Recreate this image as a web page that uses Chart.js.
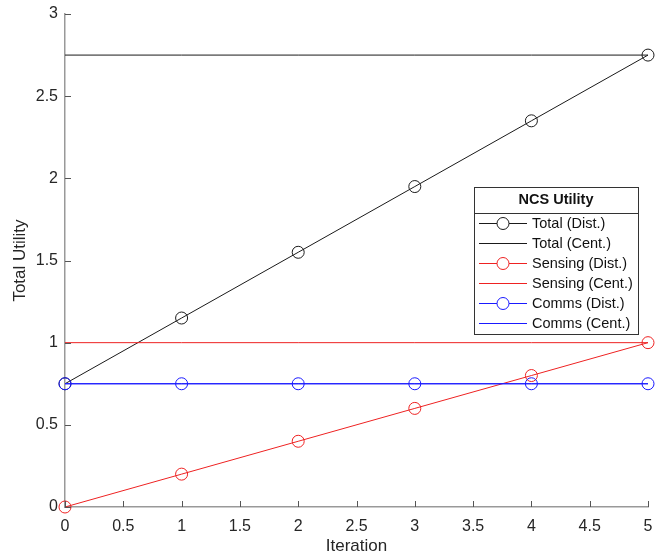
<!DOCTYPE html>
<html>
<head>
<meta charset="utf-8">
<script src="https://cdn.jsdelivr.net/npm/chart.js@4/dist/chart.umd.min.js"></script>
<style>
  html, body { margin: 0; padding: 0; background: #fff; }
  #wrap { width: 655px; height: 558px; }
</style>
</head>
<body>
<div id="wrap"><canvas id="c"></canvas></div>
<script>
const iterations = [0, 1, 2, 3, 4, 5];
const totalDist = [0.75, 1.15, 1.55, 1.95, 2.35, 2.75];
const totalCent = [2.75, 2.75, 2.75, 2.75, 2.75, 2.75];
const sensingDist = [0, 0.2, 0.4, 0.6, 0.8, 1.0];
const sensingCent = [1, 1, 1, 1, 1, 1];
const commsDist = [0.75, 0.75, 0.75, 0.75, 0.75, 0.75];
const commsCent = [0.75, 0.75, 0.75, 0.75, 0.75, 0.75];
const legendTitle = 'NCS Utility';

const FONT = '"Liberation Sans", Arial, sans-serif';
const BLACK = '#1a1a1a', RED = '#ee2222', BLUE = '#1a1aff';

function pts(ys) { return iterations.map((x, i) => ({ x: x, y: ys[i] })); }

function series(label, ys, color, marker, order) {
  return {
    label: label,
    data: pts(ys),
    order: order,
    lineColor: color,
    hasMarker: marker,
    borderColor: color,
    backgroundColor: 'rgba(0,0,0,0)',
    borderWidth: 1,
    pointRadius: marker ? 6 : 0,
    pointHoverRadius: marker ? 6 : 0,
    pointBorderWidth: 1,
    pointBorderColor: color,
    pointBackgroundColor: 'rgba(0,0,0,0)',
    tension: 0,
    clip: false
  };
}

const fmt = v => String(Math.round(v * 10) / 10);

// inward tick marks, matlab style
const innerTicks = {
  id: 'innerTicks',
  afterDraw(chart) {
    const ctx = chart.ctx, a = chart.chartArea;
    const xs = chart.scales.x, ys = chart.scales.y;
    ctx.save();
    ctx.strokeStyle = '#555';
    ctx.lineWidth = 1;
    ctx.beginPath();
    xs.ticks.forEach(t => {
      const px = Math.round(xs.getPixelForValue(t.value)) + 0.5;
      ctx.moveTo(px, a.bottom);
      ctx.lineTo(px, a.bottom - 6);
    });
    ys.ticks.forEach(t => {
      const py = Math.round(ys.getPixelForValue(t.value)) + 0.5;
      ctx.moveTo(a.left, py);
      ctx.lineTo(a.left + 6, py);
    });
    ctx.stroke();
    ctx.restore();
  }
};

// boxed legend with a title row
const boxLegend = {
  id: 'boxLegend',
  afterDraw(chart) {
    const ctx = chart.ctx;
    const x0 = 474, y0 = 187, w = 164, h = 147, titleH = 26, rowH = 20;
    ctx.save();
    ctx.fillStyle = '#fff';
    ctx.fillRect(x0, y0, w, h);
    ctx.strokeStyle = '#333';
    ctx.lineWidth = 1;
    ctx.strokeRect(x0 + 0.5, y0 + 0.5, w, h);
    ctx.beginPath();
    ctx.moveTo(x0, y0 + titleH + 0.5);
    ctx.lineTo(x0 + w, y0 + titleH + 0.5);
    ctx.stroke();

    ctx.fillStyle = '#111';
    ctx.font = 'bold 14.5px ' + FONT;
    ctx.textAlign = 'center';
    ctx.textBaseline = 'middle';
    ctx.fillText(legendTitle, x0 + w / 2, y0 + 13);

    ctx.font = '14.5px ' + FONT;
    ctx.textAlign = 'left';
    chart.data.datasets.forEach((ds, i) => {
      const y = y0 + titleH + 10 + i * rowH;
      ctx.fillStyle = ds.lineColor;
      ctx.fillRect(x0 + 5, y, 48, 1);
      if (ds.hasMarker) {
        ctx.fillStyle = '#fff';
        ctx.strokeStyle = ds.lineColor;
        ctx.lineWidth = 1;
        ctx.beginPath();
        ctx.arc(x0 + 29, y + 0.5, 6, 0, Math.PI * 2);
        ctx.fill();
        ctx.stroke();
      }
      ctx.fillStyle = '#111';
      ctx.fillText(ds.label, x0 + 58, y + 1);
    });
    ctx.restore();
  }
};

new Chart(document.getElementById('c'), {
  type: 'line',
  data: {
    datasets: [
      series('Total (Dist.)', totalDist, BLACK, true, 6),
      series('Total (Cent.)', totalCent, BLACK, false, 5),
      series('Sensing (Dist.)', sensingDist, RED, true, 4),
      series('Sensing (Cent.)', sensingCent, RED, false, 3),
      series('Comms (Dist.)', commsDist, BLUE, true, 2),
      series('Comms (Cent.)', commsCent, BLUE, false, 1)
    ]
  },
  options: {
    responsive: true,
    maintainAspectRatio: false,
    animation: false,
    layout: { padding: { left: 0, right: 5, top: 14, bottom: 0 } },
    plugins: {
      legend: { display: false },
      tooltip: { enabled: false }
    },
    scales: {
      x: {
        type: 'linear',
        min: 0,
        max: 5,
        afterFit(s) { s.height = 51; s.paddingLeft = 0; s.paddingRight = 0; },
        border: { color: '#999', width: 1.5 },
        grid: { drawOnChartArea: false, drawTicks: false },
        ticks: { stepSize: 0.5, padding: 10, color: '#262626', callback: fmt, font: { family: FONT, size: 16 } },
        title: { display: true, text: 'Iteration', color: '#262626', padding: { top: 0, bottom: 1 }, font: { family: FONT, size: 17 } }
      },
      y: {
        min: 0,
        max: 3,
        afterFit(s) { s.width = 65; s.paddingTop = 0; s.paddingBottom = 0; },
        border: { color: '#999', width: 1.5 },
        grid: { drawOnChartArea: false, drawTicks: false },
        ticks: { stepSize: 0.5, padding: 7, color: '#262626', callback: fmt, font: { family: FONT, size: 16 } },
        title: { display: true, text: 'Total Utility', color: '#262626', padding: { top: 10, bottom: 0 }, font: { family: FONT, size: 17 } }
      }
    }
  },
  plugins: [innerTicks, boxLegend]
});
</script>
</body>
</html>
